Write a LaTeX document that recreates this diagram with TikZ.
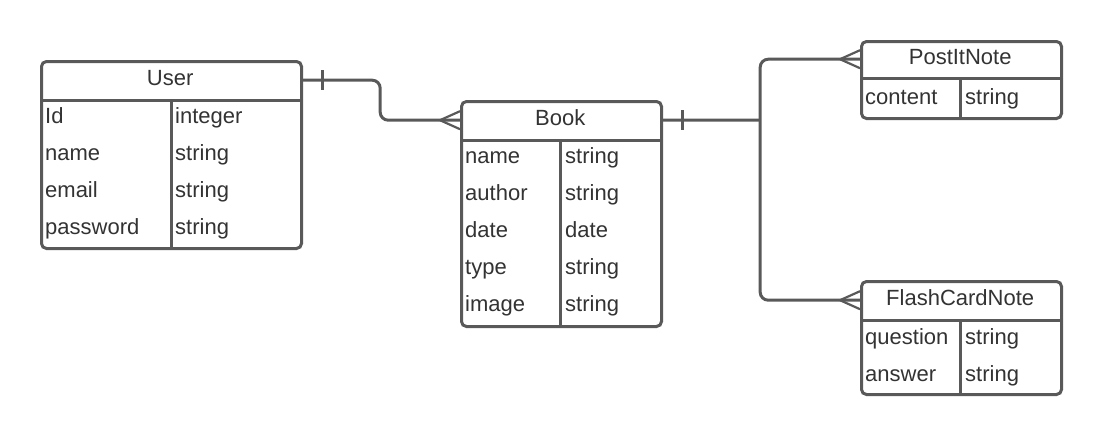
\documentclass[tikz,border=0pt]{standalone}
\usepackage{fontspec}
\setmainfont{Liberation Sans}
\usetikzlibrary{calc}
\definecolor{lc}{HTML}{595959}
\definecolor{tc}{HTML}{333333}
\tikzset{
  entity/.style={draw=lc, line width=3pt, rounded corners=5pt, inner sep=0pt, fill=white},
  hdr/.style={inner sep=0pt, text=tc, font=\fontsize{22}{26}\selectfont, text height=16pt, text depth=5pt},
  cell/.style={anchor=base west, inner sep=0pt, text=tc, font=\fontsize{22}{26}\selectfont},
  sep/.style={draw=lc, line width=3pt},
  conn/.style={draw=lc, line width=3pt, rounded corners=8pt},
  tick/.style={draw=lc, line width=2.2pt}
}
\begin{document}
\begin{tikzpicture}[x=1pt,y=-1pt]
\useasboundingbox (0,0) rectangle (1100,434);
% User
\node[entity, minimum width=260pt, minimum height=187pt, anchor=north west] (user) at (40,60) {};
\node[hdr, minimum width=260pt, minimum height=40pt, anchor=north west] (userh) at (40,60) {User};
\draw[sep] (userh.south west) -- (userh.south east);
\draw[sep] (171,100) -- (171,247);
\node[cell] (u1a) at (45,123) {Id};
\node[cell] (u1b) at (175,123) {integer};
\node[cell] (u2a) at (45,160) {name};
\node[cell] (u2b) at (175,160) {string};
\node[cell] (u3a) at (45,197) {email};
\node[cell] (u3b) at (175,197) {string};
\node[cell] (u4a) at (45,234) {password};
\node[cell] (u4b) at (175,234) {string};
% Book
\node[entity, minimum width=200pt, minimum height=225pt, anchor=north west] (book) at (460,100) {};
\node[hdr, minimum width=200pt, minimum height=40pt, anchor=north west] (bookh) at (460,100) {Book};
\draw[sep] (bookh.south west) -- (bookh.south east);
\draw[sep] (560,140) -- (560,325);
\node[cell] (b1a) at (465,163) {name};
\node[cell] (b1b) at (565,163) {string};
\node[cell] (b2a) at (465,200) {author};
\node[cell] (b2b) at (565,200) {string};
\node[cell] (b3a) at (465,237) {date};
\node[cell] (b3b) at (565,237) {date};
\node[cell] (b4a) at (465,274) {type};
\node[cell] (b4b) at (565,274) {string};
\node[cell] (b5a) at (465,311) {image};
\node[cell] (b5b) at (565,311) {string};
% PostItNote
\node[entity, minimum width=200pt, minimum height=77pt, anchor=north west] (post) at (860,40) {};
\node[hdr, minimum width=200pt, minimum height=38pt, anchor=north west] (posth) at (860,40) {PostItNote};
\draw[sep] (posth.south west) -- (posth.south east);
\draw[sep] (960,78) -- (960,117);
\node[cell] (p1a) at (865,104) {content};
\node[cell] (p1b) at (965,104) {string};
% FlashCardNote
\node[entity, minimum width=200pt, minimum height=113pt, anchor=north west] (flash) at (860,280) {};
\node[hdr, minimum width=200pt, minimum height=40pt, anchor=north west] (flashh) at (860,280) {FlashCardNote};
\draw[sep] (flashh.south west) -- (flashh.south east);
\draw[sep] (960,320) -- (960,393);
\node[cell] (f1a) at (865,344) {question};
\node[cell] (f1b) at (965,344) {string};
\node[cell] (f2a) at (865,381) {answer};
\node[cell] (f2b) at (965,381) {string};
% connectors
\coordinate (m1) at ($(userh.east)!0.5!(bookh.west)$);
\coordinate (m2) at ($(bookh.east)!0.5!(bookh.east -| posth.west)$);
\draw[conn] (userh.east) -| (m1) |- (bookh.west);
\draw[conn] (posth.west) -| (m2) |- (flashh.west);
\draw[conn] (bookh.east) -- (m2);
% one-bars
\draw[tick] ($(userh.east)+(22,-10)$) -- ++(0,20);
\draw[tick] ($(bookh.east)+(22,-10)$) -- ++(0,20);
% crow's feet
\foreach \n in {bookh,posth,flashh}{
  \draw[tick] ($(\n.west)+(-20,0)$) -- ++(20,-9);
  \draw[tick] ($(\n.west)+(-20,0)$) -- ++(20,9);
}
\end{tikzpicture}
\end{document}
